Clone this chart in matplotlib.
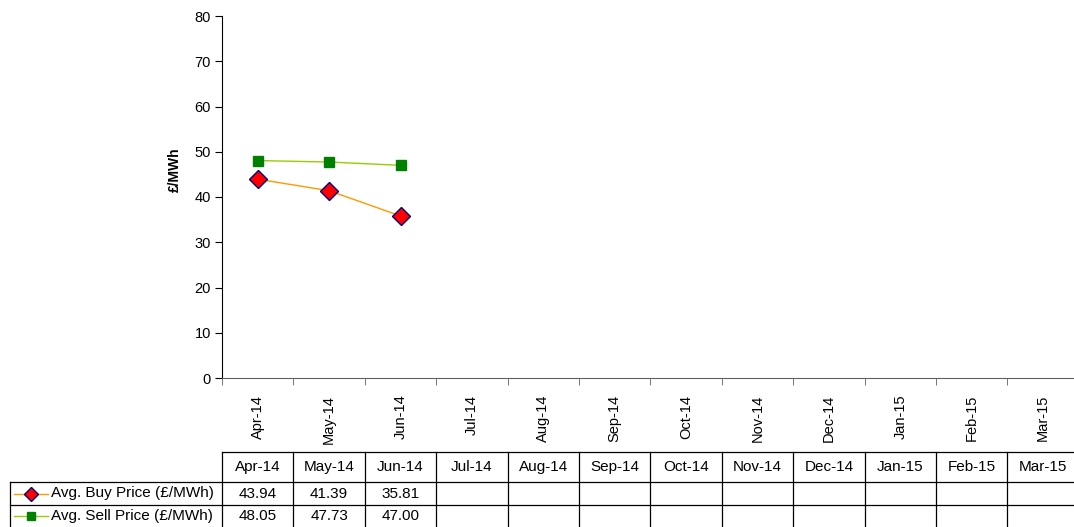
import matplotlib
matplotlib.use("Agg")
import matplotlib.pyplot as plt
import numpy as np

plt.rcParams['font.family'] = ['Liberation Sans', 'DejaVu Sans']

months = ["Apr-14", "May-14", "Jun-14", "Jul-14", "Aug-14", "Sep-14",
          "Oct-14", "Nov-14", "Dec-14", "Jan-15", "Feb-15", "Mar-15"]
buy_price = [43.94, 41.39, 35.81]
sell_price = [48.05, 47.73, 47.00]
series_names = ["Avg. Buy Price (£/MWh)", "Avg. Sell Price (£/MWh)"]
y_ticks = [0, 10, 20, 30, 40, 50, 60, 70, 80]

W, H = 1074, 527
fig = plt.figure(figsize=(W / 100, H / 100), dpi=100)

# plot area in pixels
x0, x1 = 222, 222 + 12 * 71.4
y_top, y_bot = 16, 378
ax = fig.add_axes([x0 / W, (H - y_bot) / H, (x1 - x0) / W, (y_bot - y_top) / H])

buy_style = dict(color="#FF9900", lw=1.0, marker="D", markersize=9,
                 markerfacecolor="#FF0000", markeredgecolor="#000080", markeredgewidth=1.0)
sell_style = dict(color="#99CC00", lw=1.0, marker="s", markersize=6.5,
                  markerfacecolor="#008000", markeredgecolor="#008000")

xs = np.arange(len(months))
ax.plot(xs[:len(buy_price)], buy_price, **buy_style, zorder=3)
ax.plot(xs[:len(sell_price)], sell_price, **sell_style, zorder=3)

ax.set_xlim(-0.5, len(months) - 0.5)
ax.set_ylim(0, 80)
ax.set_yticks(y_ticks)
ax.set_yticklabels([str(v) for v in y_ticks], fontsize=10.5)
ax.set_xticks(xs)
ax.set_xticklabels(months, rotation=90, fontsize=10.5)
ax.tick_params(axis='x', length=0, pad=12)
ax.set_xticks(np.arange(len(months) + 1) - 0.5, minor=True)
ax.tick_params(axis='x', which='minor', length=5, direction='out', color='#606060')
ax.tick_params(axis='y', length=5, direction='out', pad=3)
for s in ["top", "right"]:
    ax.spines[s].set_visible(False)
ax.spines["bottom"].set_color("#606060")
ax.spines["left"].set_color("black")
ax.set_facecolor("none")

fig.text(175 / W, 1 - 170 / H, "£/MWh", rotation=90, fontsize=10, fontweight="bold",
         ha="center", va="center")

# overlay in pixel coords for data table
ov = fig.add_axes([0, 0, 1, 1])
ov.set_xlim(0, W)
ov.set_ylim(H, 0)
ov.axis("off")

colw = 71.4
col_edges = [x0 + i * colw for i in range(len(months) + 1)]
rows = [452, 482, 505, 529]
lc = dict(color="black", lw=0.9)
ov.plot([x0, col_edges[-1]], [rows[0], rows[0]], **lc)
for r in rows[1:3]:
    ov.plot([10, col_edges[-1]], [r, r], **lc)
for e in col_edges:
    ov.plot([e, e], [rows[0], H], **lc)
ov.plot([10, 10], [rows[1], H], **lc)

for i, m in enumerate(months):
    ov.text(x0 + (i + 0.5) * colw, (rows[0] + rows[1]) / 2, m, fontsize=11,
            ha="center", va="center")

table_vals = [buy_price, sell_price]
styles = [buy_style, sell_style]
for r, (vals, name, st) in enumerate(zip(table_vals, series_names, styles)):
    yc = (rows[r + 1] + rows[r + 2]) / 2 - (1 if r == 1 else 0)
    ms = 7 if st["marker"] == "D" else 6
    ov.plot([14, 48], [yc, yc], color=st["color"], lw=st["lw"])
    ov.plot([31], [yc], linestyle="none", marker=st["marker"], markersize=ms,
            markerfacecolor=st["markerfacecolor"], markeredgecolor=st["markeredgecolor"])
    ov.text(51, yc, name, fontsize=11, ha="left", va="center")
    for i, v in enumerate(vals):
        ov.text(x0 + (i + 0.5) * colw, yc, f"{v:.2f}", fontsize=11, ha="center", va="center")

fig.savefig("out.png", dpi=100)
